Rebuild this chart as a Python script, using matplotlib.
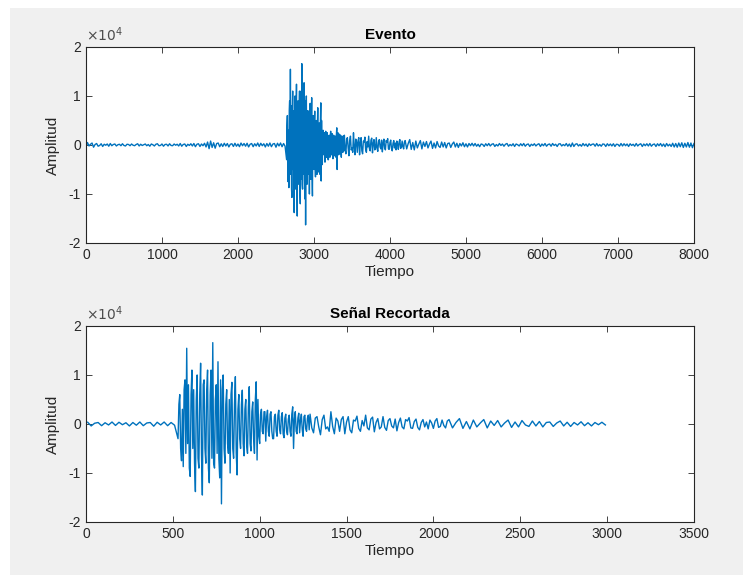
import numpy as np
import matplotlib.pyplot as plt
from matplotlib.patches import Rectangle

t_pre = np.arange(0, 2640, 20)
amp_pre = [-350, 500, -200, 150, 400, -450, 100, 300, -250, -100,
           250, -300, 150, -50, 200, -250, 300, -150, 100, 200,
           -200, 50, 150, -150, 250, -100, -200, 150, 100, -150,
           200, -50, -150, 100, 250, -200, 150, -100, 50, 200,
           -150, 100, -250, 200, 50, -200, 150, 250, -150, -100,
           200, -250, 100, 150, -200, 250, -100, -150, 200, -50,
           150, -200, 300, -250, 100, 200, -300, 150, -100, 250,
           -200, 300, -350, 150, 250, -300, 200, -150, 350, -400,
           600, -750, 800, -500, 450, -650, 300, 400, -350, 250,
           -300, 350, -200, 300, -400, 150, 250, -300, 350, -250,
           200, -350, 400, -150, 300, -250, 350, -400, 150, 300,
           -350, 250, -200, 400, -300, 350, -150, 250, -400, 300,
           -250, 400, -350, 200, 300, -450, 350, -200, 400, -350,
           300, -250]

t_main = np.arange(2640, 3400, 5)
amp_main = [-3000, 4000, 6000, -5000, -7500, 3000, -8700, 7000, 9000, -6000,
            15450, -4000, 8000, -9000, -10700, 6000, 11000, -5000, 7000, -8000,
            -13800, 5000, 10000, -7000, -9000, 6000, 12400, -6000, -14500, 8000,
            9000, -5000, -8000, 7000, 11000, -9000, -12000, 6000, 11000, -7000,
            16600, -8000, -9000, 5000, 8000, -6000, 12700, -7000, -11000, 9000,
            -16300, 7000, 10000, -5000, -8000, 4000, 7000, -4000, -6000, 5000,
            -10000, 6000, 8500, -5000, -7000, 4000, 9650, -6000, -10400, 3000,
            6000, -3000, -5000, 4000, 6900, -4000, -6500, 3000, 5000, -4500,
            -6000, 3500, 7600, -4000, -5500, 2500, 4500, -3000, -6000, 5000,
            8600, -7350, 5000, -2500, -4000, 2000, 3000, -1500, -2000, 2500,
            2500, -3500, 1500, 2800, -1500, -2500, 2000, 2500, -1500, -3000,
            -3000, 1500, 2000, -1500, -2500, 1800, 2800, -1200, -2000, 1500,
            2300, -2000, -2800, 1200, 2000, -1500, -2200, 1000, 1800, -1500,
            -2500, 2000, 3500, -5000, 1000, 2500, -1500, -2000, 1200, 2200,
            -1800, 800, 2000, -1200, -2500, 1500, 1800, -1000, -1500, 1200,
            1800, -1200]

t_coda1 = np.arange(3400, 4200, 10)
amp_coda1 = [2000, -800, -1800, 1200, 1500, -600, -2200, 900, 1800, -1000,
             -600, -1500, 2500, -500, -2000, 1200, 600, -1500, 900, 1500,
             -2000, 400, 1500, -1200, -1800, 800, 600, 1600, -900, -1500,
             700, -400, 1800, -800, -1200, 1000, 1400, -1600, 300, 1100,
             -1000, -600, 1500, -700, -1300, 700, 1100, -400, -800, 1000,
             -1400, 300, 1200, -600, -1000, 900, 600, 1300, -800, -900,
             500, 1000, -700, -1200, 300, 900, -600, 400, -1000, 800,
             200, -900, 600, 1100, -700, -500, 800, -300, -800, 600]

t_coda2 = np.arange(4200, 5120, 20)
amp_coda2 = [900, -800, 300, 1100, -900, 500, -1000, 800, -600, 200,
             900, -800, 600, -300, 700, -600, 200, 800, -700, 400,
             -600, 700, -200, -500, 600, -400, 500, -600, 300, 400,
             -500, 200, 600, -400, 350, -500, 300, -200, 450, -350,
             250, -400, 300, -150, 350, -200]

t_post = np.arange(5120, 8001, 20)
amp_post = [300, -250, 150, -350, 200, 100, -300, 250, -150, 300,
            -200, 150, 250, -300, 100, -200, 300, -100, 200, -250,
            150, 300, -250, 100, -150, 250, -300, 200, 50, -200,
            250, -150, 300, -250, 100, 200, -300, 150, -100, 250,
            -200, 100, 250, -300, 200, -150, 300, -250, 100, 200,
            -250, 300, -100, 150, -300, 200, 250, -200, 100, -150,
            300, -250, 200, -350, 400, -300, 150, 250, -200, 100,
            -250, 300, -150, 200, -300, 250, -100, 150, 200, -250,
            300, -200, 100, -250, 200, 150, -300, 250, -150, 200,
            -200, 250, -300, 150, 100, -250, 300, -200, 250, -150,
            200, -300, 250, -100, 150, -250, 300, -200, 100, 250,
            -300, 200, -150, 250, -200, 300, -250, 100, 200, -300,
            250, -150, 300, -250, 200, -350, 300, -200, 150, -300,
            350, -400, 300, -450, 400, -350, 450, -500, 350, -400,
            500, -450, 400, -550, 300]

# the cut signal starts at this sample of the event and lasts 3000 samples
cut_start = 2110
cut_len = 3000

y_ticks = [-20000, -10000, 0, 10000, 20000]
y_tick_labels = ['-2', '-1', '0', '1', '2']

t = np.concatenate([t_pre, t_main, t_coda1, t_coda2, t_post])
y = np.concatenate([amp_pre, amp_main, amp_coda1, amp_coda2, amp_post])
mask = (t >= cut_start) & (t <= cut_start + cut_len)
t_cut = t[mask] - cut_start
y_cut = y[mask]

plt.rcParams['font.family'] = ['Liberation Sans', 'DejaVu Sans']

fig = plt.figure(figsize=(7.43, 5.75), dpi=100)
fig.patch.set_facecolor('white')
fig.patches.append(Rectangle((10 / 743, 0), 1, 567 / 575, transform=fig.transFigure,
                             facecolor='#f0f0f0', edgecolor='none', zorder=-10))

ax1 = fig.add_axes([0.1157, 0.5774, 0.8183, 0.3409])
ax2 = fig.add_axes([0.1157, 0.0922, 0.8183, 0.3409])

panels = [
    (ax1, t, y, 'Evento', 8000, [0, 1000, 2000, 3000, 4000, 5000, 6000, 7000, 8000]),
    (ax2, t_cut, y_cut, 'Señal Recortada', 3500, [0, 500, 1000, 1500, 2000, 2500, 3000, 3500]),
]

for ax, xs, ys, title, xmax, xticks in panels:
    ax.plot(xs, ys, color='#0072BD', linewidth=1.0)
    ax.set_xlim(0, xmax)
    ax.set_ylim(-20000, 20000)
    ax.set_xticks(xticks)
    ax.set_yticks(y_ticks, labels=y_tick_labels)
    ax.text(0.0, 1.015, r'$\times10^{4}$', transform=ax.transAxes, fontsize=10,
            color='#4d4d4d', ha='left', va='bottom')
    ax.tick_params(direction='in', top=True, right=True, length=4, width=0.6,
                   labelsize=10, labelcolor='#262626', color='#262626')
    for sp in ax.spines.values():
        sp.set_linewidth(0.8)
        sp.set_color('#262626')
    ax.set_title(title, fontsize=11, fontweight='bold', color='#000000', pad=6)
    ax.set_xlabel('Tiempo', fontsize=11, color='#262626', labelpad=2)
    ax.set_ylabel('Amplitud', fontsize=11, color='#262626', labelpad=6)

fig.savefig('out.png', dpi=100)
